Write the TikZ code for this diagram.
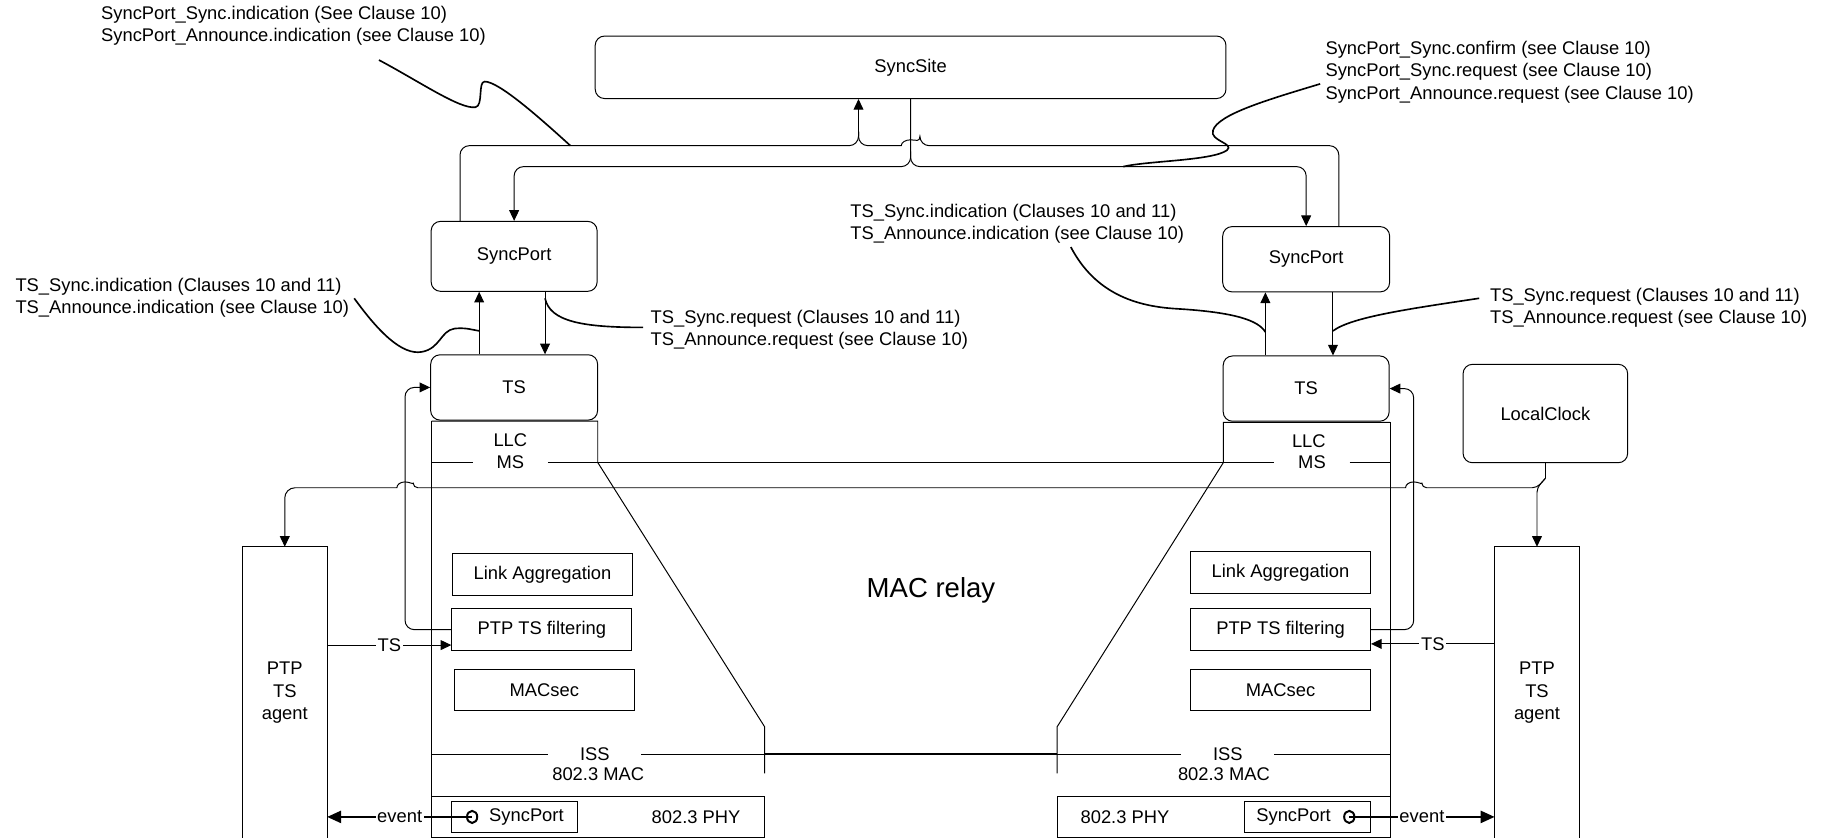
\documentclass[tikz,border=0pt]{standalone}
\usepackage{fontspec}
\setmainfont{Liberation Sans}
\usetikzlibrary{arrows.meta,calc,shapes.geometric}

\begin{document}
\begin{tikzpicture}[x=0.025cm,y=-0.025cm,line width=0.6pt,
		every node/.style={font=\fontsize{11.2}{13.5}\selectfont},
		>={Triangle[length=6.5pt,width=6pt]}]
			\tikzstyle{rbox} = [draw, rounded corners=0.2cm]
			\tikzstyle{sbox} = [draw, minimum width=3.86cm, minimum height=0.89cm]
			\tikzstyle{note} = [anchor=west, align=left, inner sep=0pt]
			\tikzstyle{msgap} = [inner ysep=0pt, inner xsep=0.5cm]
			\tikzstyle{lead} = [line width=1pt]
			\tikzstyle{evt} = [line width=1pt, -{Triangle[length=8.5pt,width=7.5pt]}]
			\useasboundingbox (0,0) rectangle (1568,719.2);

			\node [rbox, minimum width=13.53cm, minimum height=1.34cm] (site) at (781.5,57.75) {SyncSite};
			\node [rbox, minimum width=3.56cm, minimum height=1.5cm] (spL) at (441.25,220) {SyncPort};
			\node [rbox, minimum width=3.58cm, minimum height=1.4cm] (tsL) at (441.25,332.5) {TS};
			\node [rbox, minimum width=3.58cm, minimum height=1.4cm] (spR) at (1121,222.5) {SyncPort};
			\node [rbox, minimum width=3.56cm, minimum height=1.4cm] (tsR) at (1121,333.5) {TS};
			\node [rbox, minimum width=3.53cm, minimum height=2.11cm] (clock) at (1326.3,354.9) {LocalClock};

			\node [minimum width=1.8cm, minimum height=6.24cm, align=center] (agentL) at (244.4,594.5) {PTP\\TS\\agent};
			\node [minimum width=1.8cm, minimum height=6.24cm, align=center] (agentR) at (1319.1,594.5) {PTP\\TS\\agent};
			\draw (agentL.south west) |- (agentL.north east) -- (agentL.south east);
			\draw (agentR.south west) |- (agentR.north east) -- (agentR.south east);

			\node [sbox] (linkL) at (465.6,492.9) {Link Aggregation};
			\node [sbox] (filtL) at (465,540.4) {PTP TS filtering};
			\node [sbox] (secL) at (467.2,592.3) {MACsec};
			\node [sbox] (linkR) at (1099,491.2) {Link Aggregation};
			\node [sbox] (filtR) at (1099,540.4) {PTP TS filtering};
			\node [sbox] (secR) at (1099,592.3) {MACsec};

			\node (llcL) at (438,378.2) {LLC};
			\node [msgap] (msL) at (438,396.9) {MS};
			\node (llcR) at (1123.3,378.3) {LLC};
			\node [msgap] (msR) at (1126,396.9) {MS};
			\node [msgap, inner xsep=0.67cm] (issL) at (510.5,647.2) {ISS};
			\node [msgap, inner xsep=0.67cm] (issR) at (1053.8,647.2) {ISS};
			\node (macL) at (513.4,664.7) {802.3 MAC};
			\node (macR) at (1050.4,664.7) {802.3 MAC};
			\node (phyL) at (597.4,701) {802.3 PHY};
			\node (phyR) at (965.5,701) {802.3 PHY};
			\node [font=\fontsize{16.8}{20}\selectfont] (relay) at (799,507) {MAC relay};

			\node [draw, minimum width=2.69cm, minimum height=0.68cm] (pspL) at (441.5,701.1) {};
			\node (psL) at (451.8,701.1) {SyncPort};
			\node [draw, minimum width=2.7cm, minimum height=0.68cm] (pspR) at (1122.2,701.1) {};
			\node (psR) at (1110.2,701.1) {SyncPort};
			\node [draw, ellipse, line width=1.2pt, minimum width=0.22cm, minimum height=0.26cm, inner sep=0pt] (thL) at (405.2,701.1) {};
			\node [draw, ellipse, line width=1.2pt, minimum width=0.22cm, minimum height=0.26cm, inner sep=0pt] (thR) at (1158,701.1) {};

			% bridge stacks
			\draw (370.5,361.4) -- (513,361.4) -- (513,396.9) -- (656.2,623.7) -- (656.2,663.8);
			\draw (370.5,361.4) -- (370.5,718.5) -- (656.2,718.5) -- (656.2,683.3) -- (370.5,683.3);
			\draw (1193,362.5) -- (1050,362.5) -- (1050,396.9) -- (907.3,623.7) -- (907.3,663.8);
			\draw (1193,362.5) -- (1193,718.5) -- (907.3,718.5) -- (907.3,683.3) -- (1193,683.3);

			\draw (370.5,396.9) -- (msL.west);
			\draw [line width=0.9pt] (msL.east) -- (msR.west);
			\draw (msR.east) -- (1193,396.9);
			\draw (370.5,647.2) -- (issL.west);
			\draw (issL.east) -- (656.2,647.2);
			\draw [line width=1pt] (656.2,647.2) -- (907.3,647.2);
			\draw (907.3,647.2) -- (issR.west);
			\draw (issR.east) -- (1193,647.2);

			% SyncSite wiring
			\draw [rounded corners=0.2cm] ($(spL.north west)+(25.2,0)$) |- (736.8,125) -- ($(site.south)+(-44.7,28)$);
			\draw [rounded corners=0.2cm] ($(spR.north)+(28,0)$) |- (789.5,125) [sharp corners] arc (0:180:0.2cm and 0.125cm) [rounded corners=0.2cm] -- (736.8,125) -- ($(site.south)+(-44.7,28)$);
			\draw [->] ($(site.south)+(-44.7,28)$) -- ($(site.south)+(-44.7,0)$);
			\draw [->, rounded corners=0.2cm] (site.south) -- (781.5,143) -- (441.25,143) -- (spL.north);
			\draw [->, rounded corners=0.2cm] (781.5,130) -- (781.5,143) -- (1121,143) -- (spR.north);

			\draw [->] ($(tsL.north)+(-30,0)$) -- ($(spL.south)+(-30,0)$);
			\draw [->] ($(spL.south)+(26.5,0)$) -- ($(tsL.north)+(26.5,0)$);
			\draw [->] ($(tsR.north)+(-35,0)$) -- ($(spR.south)+(-35,0)$);
			\draw [->] ($(spR.south)+(23,0)$) -- ($(tsR.north)+(23,0)$);

			\draw [->, rounded corners=0.2cm] (filtL.west) -- (347.6,540.4) |- (tsL.west);
			\draw [->, rounded corners=0.2cm] (filtR.east) -- (1213.3,540.4) |- (tsR.east);

			\coordinate (tsinL) at ($(filtL.south west)+(0,-5)$);
			\coordinate (tsinR) at ($(filtR.south east)+(0,-6)$);
			\draw [->] (agentL.east |- tsinL) -- (tsinL) node [midway, fill=white, inner sep=1pt] {TS};
			\draw [->] (agentR.west |- tsinR) -- (tsinR) node [midway, fill=white, inner sep=1pt] {TS};

			\draw [evt] (thL.center) -- (agentL.east |- thL.center) node [midway, fill=white, inner sep=1pt] {event};
			\draw [evt] (thR.center) -- (agentR.west |- thR.center) node [midway, fill=white, inner sep=1pt] {event};

			% LocalClock to both agents
			\coordinate (ckj) at ($(clock.south)+(0,13)$);
			\coordinate (ckb) at (1319.1,418.6);
			\draw (clock.south) -- (ckj);
			\draw [->, rounded corners=0.1cm] (ckj) -- (ckb) -- (agentR.north);
			\draw [->, rounded corners=0.1cm] (ckj) -- (ckb) -- (1220.3,418.6) [sharp corners] arc (0:180:0.175cm and 0.125cm) [rounded corners=0.1cm] -- (354.6,418.6) [sharp corners] arc (0:180:0.175cm and 0.125cm) [rounded corners=0.22cm] -- (244.4,418.6) -- (agentL.north);

			% notes
			\node [note] (ntA) at (86.4,22.2) {SyncPort\_Sync.indication (See Clause 10)\\SyncPort\_Announce.indication (see Clause 10)};
			\node [note] (ntB) at (1137.2,62) {SyncPort\_Sync.confirm (see Clause 10)\\SyncPort\_Sync.request (see Clause 10)\\SyncPort\_Announce.request (see Clause 10)};
			\node [note] (ntC) at (12.9,255.7) {TS\_Sync.indication (Clauses 10 and 11)\\TS\_Announce.indication (see Clause 10)};
			\node [note] (ntD) at (558,283) {TS\_Sync.request (Clauses 10 and 11)\\TS\_Announce.request (see Clause 10)};
			\node [note] (ntE) at (729.4,192) {TS\_Sync.indication (Clauses 10 and 11)\\TS\_Announce.indication (see Clause 10)};
			\node [note] (ntF) at (1278.4,264.4) {TS\_Sync.request (Clauses 10 and 11)\\TS\_Announce.request (see Clause 10)};

			\draw [lead] (325.2,51.5) .. controls (360,70) and (395,94) .. (408,92) .. controls (415,91) and (410,70) .. (416,70) .. controls (428,70) and (462,100) .. (489.5,125);
			\draw [lead] (1133,72) .. controls (1090,85) and (1045,98) .. (1041,112) .. controls (1038,121) and (1060,123) .. (1053,129) .. controls (1040,138) and (985,138) .. (964,143);
			\draw [lead] (304,256) .. controls (325,285) and (345,305) .. (362,302) .. controls (378,299) and (378,284) .. (390,282) .. controls (400,281) and (405,283) .. (411.25,284);
			\draw [lead] (467.75,256) .. controls (472,276) and (500,281) .. (552,281);
			\draw [lead] (919,212) .. controls (940,252) and (975,263) .. (1010,265) .. controls (1060,268) and (1080,275) .. (1086,285);
			\draw [lead] (1269.5,256) .. controls (1210,265) and (1160,272) .. (1144,284);

		\end{tikzpicture}
\end{document}
